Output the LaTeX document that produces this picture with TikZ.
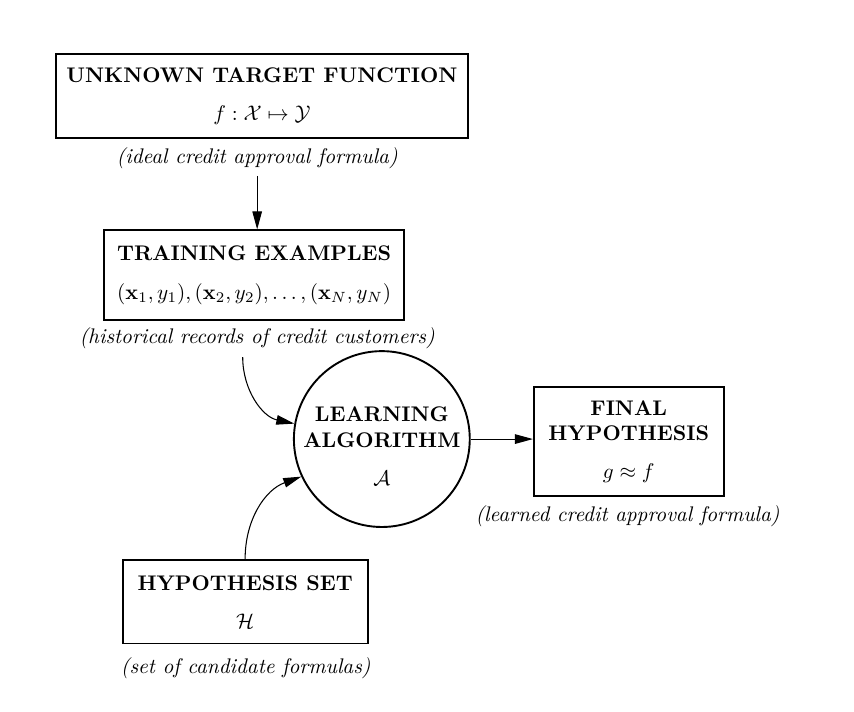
\documentclass[tikz,border=0pt]{standalone}
\usepackage{amsmath,amssymb}
\usepackage{tikz}
\usetikzlibrary{arrows.meta}
\usetikzlibrary{positioning}

\begin{document}
\begin{tikzpicture}[
    box/.style={rectangle, draw, line width=0.9pt, align=center, font=\bfseries, inner sep=0pt},
    algo/.style={circle, draw, line width=0.9pt, minimum size=2.92cm, inner sep=0pt},
    note/.style={font=\itshape},
    flow/.style={-{Triangle[length=8.5pt,width=4.5pt]}, line width=0.5pt},
  ]
  \useasboundingbox (0,0) rectangle (14.18,-11.82);

  % Boxes and the learning algorithm
  \node[box, minimum width=6.84cm, minimum height=1.39cm] (target) at (4.35,-1.59)
    {UNKNOWN TARGET FUNCTION\\[6pt] $f:\mathcal{X}\mapsto\mathcal{Y}$};
  \node[box, minimum width=4.98cm, minimum height=1.49cm] (train) at (4.22,-4.57)
    {TRAINING EXAMPLES\\[6pt] $(\mathbf{x}_1,y_1),(\mathbf{x}_2,y_2),\dots,(\mathbf{x}_N,y_N)$};
  \node[algo] (alg) at (6.34,-7.29) {};
  \node[align=center, font=\bfseries] (algText) at (6.34,-7.41)
    {LEARNING\\ALGORITHM\\[6pt] $\mathcal{A}$};
  \node[box, minimum width=3.15cm, minimum height=1.81cm] (final) at (10.44,-7.33)
    {FINAL\\HYPOTHESIS\\[6pt] $g\approx f$};
  \node[box, minimum width=4.07cm, minimum height=1.39cm] (hset) at (4.07,-9.99)
    {HYPOTHESIS SET\\[6pt] $\mathcal{H}$};

  % Notes under the boxes
  \node[note] (cap1) at (4.27,-2.62)  {(ideal credit approval formula)};
  \node[note] (cap2) at (4.27,-5.61)  {(historical records of credit customers)};
  \node[note] (cap3) at (10.42,-8.57) {(learned credit approval formula)};
  \node[note] (cap4) at (4.08,-11.09) {(set of candidate formulas)};

  % Arrows
  \coordinate (dataIn) at (4.03,-5.93);
  \draw[flow] (cap1.south) -- (cap1.south |- train.north);
  \draw[flow] (dataIn) to[out=-90, in=168] (alg.170);
  \draw[flow] (hset.north) to[out=90, in=200] (alg.205);
  \draw[flow] (alg.east) -- (alg.east -| final.west);

\end{tikzpicture}
\end{document}
